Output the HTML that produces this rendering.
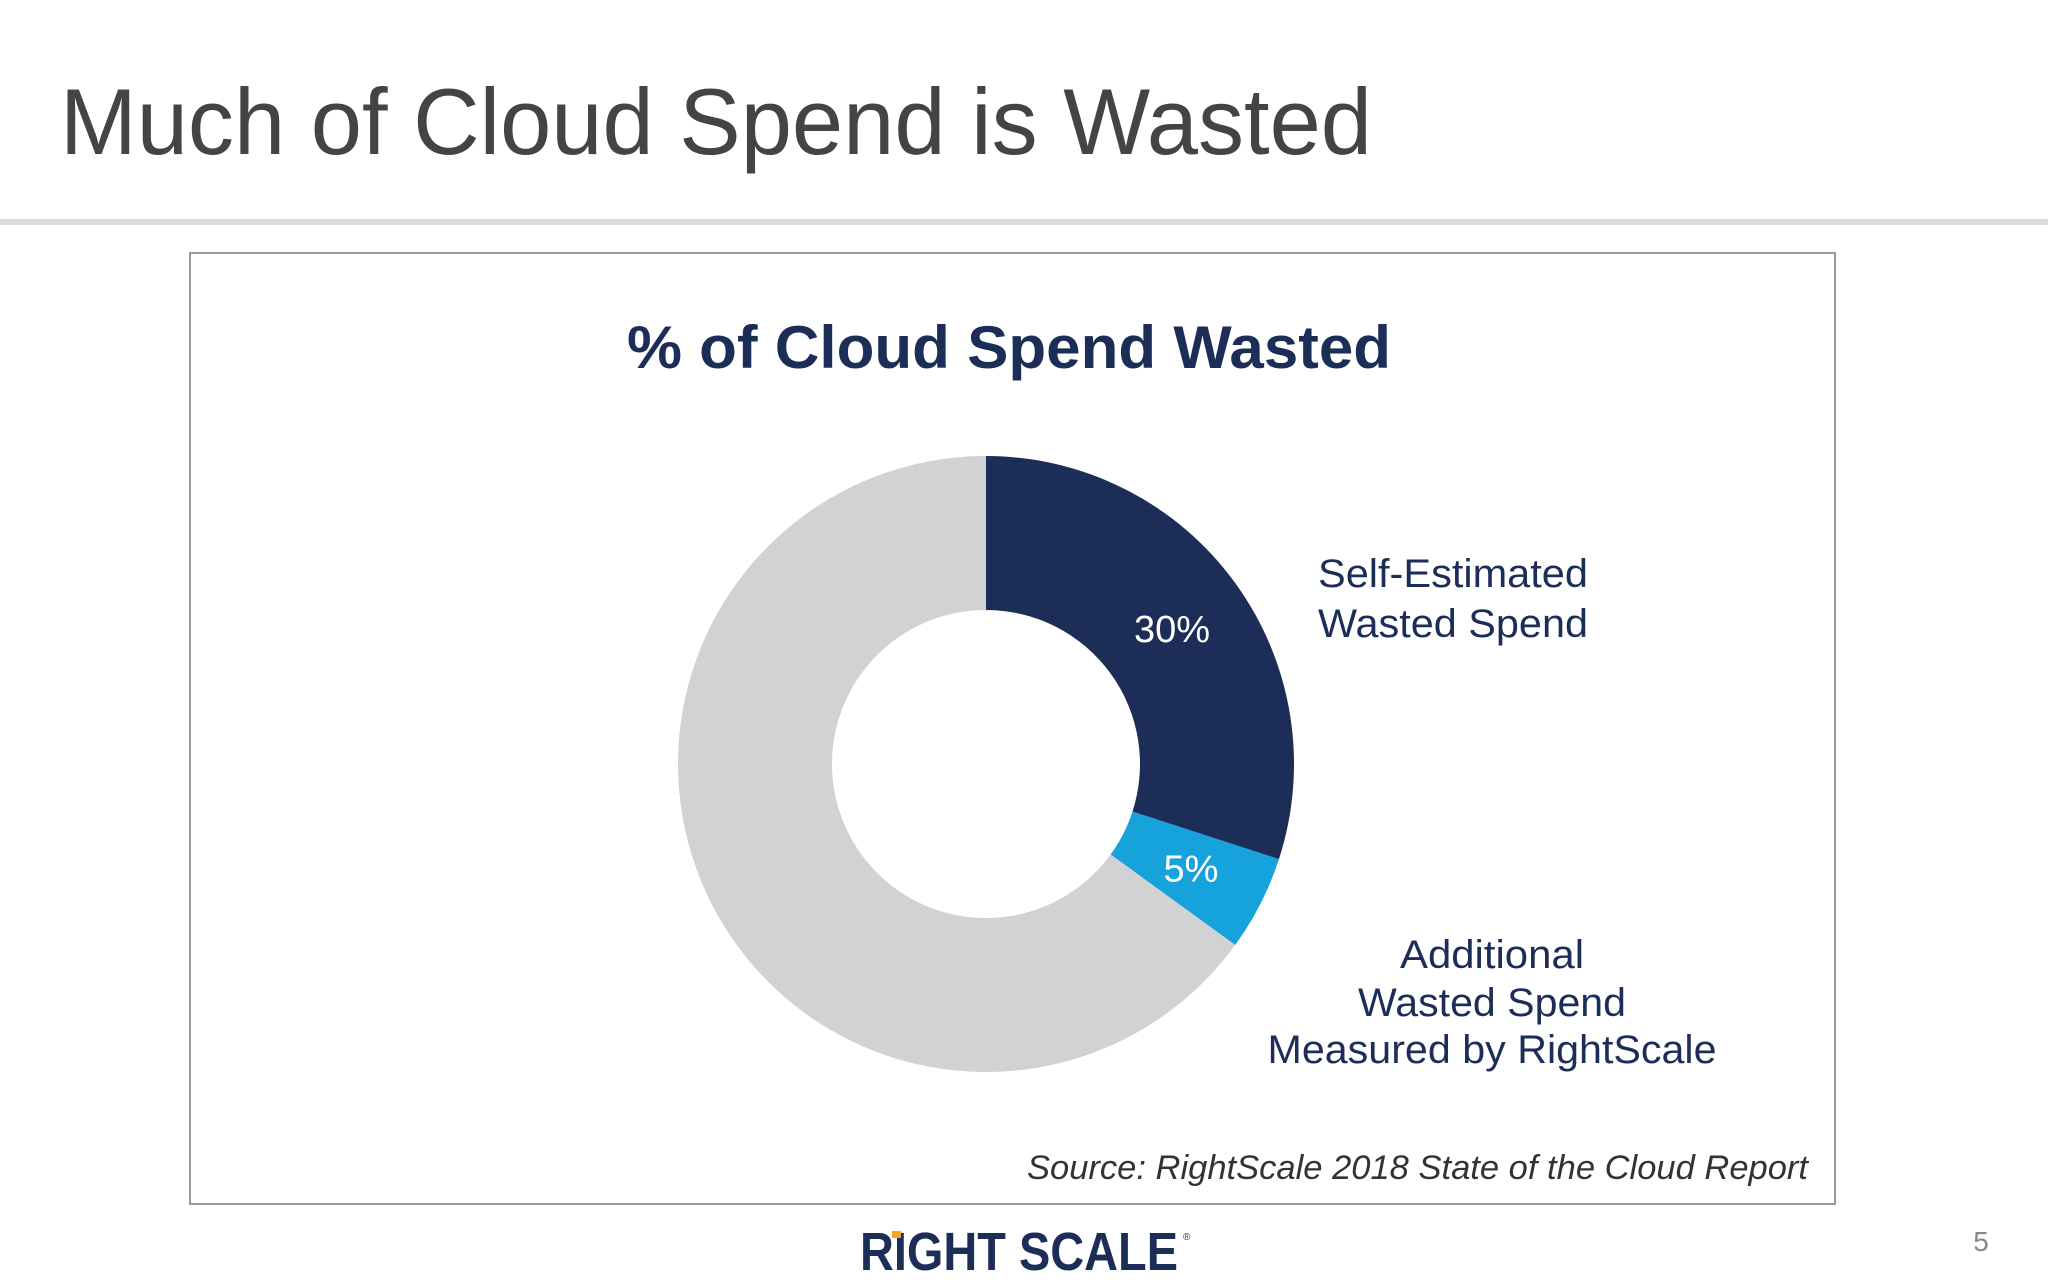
<!DOCTYPE html>
<html><head><meta charset="utf-8"><style>
html,body{margin:0;padding:0;background:#fff;}
svg{display:block;}
text{font-family:"Liberation Sans",sans-serif;}
</style></head><body>
<svg width="2048" height="1280" viewBox="0 0 2048 1280">
<text x="60" y="154" font-size="94" fill="#444" textLength="1312" lengthAdjust="spacingAndGlyphs">Much of Cloud Spend is Wasted</text>
<rect x="0" y="219" width="2048" height="6" fill="#dcdcdc"/>
<rect x="190" y="253" width="1645" height="951" fill="#fff" stroke="#9a9a9a" stroke-width="2"/>
<text x="1009" y="368" font-size="60" font-weight="bold" fill="#1c2d57" text-anchor="middle" textLength="764" lengthAdjust="spacingAndGlyphs">% of Cloud Spend Wasted</text>
<g id="donut"></g>
<text x="1318" y="587" font-size="40" fill="#1c2d57" textLength="270" lengthAdjust="spacingAndGlyphs">Self-Estimated</text>
<text x="1318" y="637" font-size="40" fill="#1c2d57" textLength="270" lengthAdjust="spacingAndGlyphs">Wasted Spend</text>
<text x="1492" y="968" font-size="40" fill="#1c2d57" text-anchor="middle" textLength="184" lengthAdjust="spacingAndGlyphs">Additional</text>
<text x="1492" y="1016" font-size="40" fill="#1c2d57" text-anchor="middle" textLength="268" lengthAdjust="spacingAndGlyphs">Wasted Spend</text>
<text x="1492" y="1063" font-size="40" fill="#1c2d57" text-anchor="middle" textLength="449" lengthAdjust="spacingAndGlyphs">Measured by RightScale</text>
<text x="1808" y="1179" font-size="34" font-style="italic" fill="#333" text-anchor="end" textLength="781" lengthAdjust="spacingAndGlyphs">Source: RightScale 2018 State of the Cloud Report</text>
<text x="860" y="1270" font-size="54" font-weight="bold" fill="#1c2d57" textLength="318" lengthAdjust="spacingAndGlyphs">RIGHT SCALE</text>
<rect x="892" y="1231" width="9" height="7" fill="#f5a623"/>
<text x="1183" y="1240" font-size="10" fill="#1c2d57">®</text>
<text x="1981" y="1251" font-size="28" fill="#888" text-anchor="middle">5</text>
</svg>
<script>
const categories = ["Self-Estimated Wasted Spend", "Additional Wasted Spend", "Other Spend"];
const values = [30, 5, 65];
const valueLabels = ["30%", "5%", ""];
const colors = ["#1c2d57", "#16a3dc", "#d1d2d4"];
const cx = 986, cy = 764, rO = 308, rI = 154;
const g = document.getElementById('donut');
const NS = 'http://www.w3.org/2000/svg';
const total = values.reduce((a, b) => a + b, 0);
function pt(a, r) { return [cx + r * Math.sin(a), cy - r * Math.cos(a)]; }
let acc = 0;
values.forEach((v, i) => {
  const a0 = acc / total * 2 * Math.PI;
  acc += v;
  const a1 = acc / total * 2 * Math.PI;
  const large = (a1 - a0) > Math.PI ? 1 : 0;
  const [x0, y0] = pt(a0, rO), [x1, y1] = pt(a1, rO), [x2, y2] = pt(a1, rI), [x3, y3] = pt(a0, rI);
  const p = document.createElementNS(NS, 'path');
  p.setAttribute('d', `M${x0},${y0} A${rO},${rO} 0 ${large} 1 ${x1},${y1} L${x2},${y2} A${rI},${rI} 0 ${large} 0 ${x3},${y3} Z`);
  p.setAttribute('fill', colors[i]);
  
  
  g.appendChild(p);
  if (valueLabels[i]) {
    const am = (a0 + a1) / 2;
    const [lx, ly] = pt(am, (rO + rI) / 2 - 1);
    const t = document.createElementNS(NS, 'text');
    t.setAttribute('x', lx);
    t.setAttribute('y', ly + 13);
    t.setAttribute('text-anchor', 'middle');
    t.setAttribute('font-size', '38');
    t.setAttribute('fill', '#fff');
    t.textContent = valueLabels[i];
    
    
    g.appendChild(t);
  }
});
</script>
</body></html>
